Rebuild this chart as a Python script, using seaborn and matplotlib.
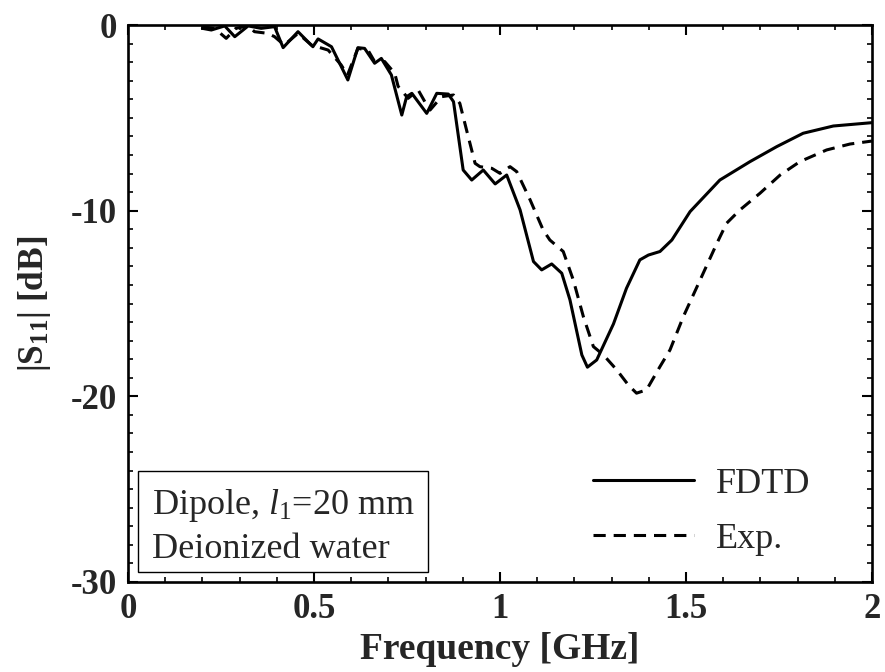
import matplotlib
matplotlib.use("Agg")
import matplotlib.pyplot as plt
import seaborn as sns
import numpy as np
from matplotlib.patches import Rectangle
from matplotlib.ticker import MultipleLocator

# ---- data ----
fdtd_f = [0.20, 0.224, 0.26, 0.287, 0.323, 0.358, 0.394, 0.417, 0.457, 0.497, 0.511, 0.547,
          0.591, 0.618, 0.636, 0.663, 0.681, 0.708, 0.736, 0.749, 0.763, 0.803, 0.830, 0.861,
          0.875, 0.901, 0.924, 0.955, 0.987, 1.018, 1.054, 1.09, 1.112, 1.139, 1.166, 1.188,
          1.22, 1.235, 1.26, 1.305, 1.34, 1.376, 1.399, 1.43, 1.462, 1.511, 1.591, 1.672,
          1.744, 1.815, 1.896, 2.0]
fdtd_db = [-0.18, -0.27, -0.05, -0.63, -0.05, -0.18, -0.09, -1.22, -0.36, -1.17, -0.75, -1.17,
           -2.96, -1.22, -1.26, -2.06, -1.8, -2.69, -4.85, -3.86, -3.68, -4.76, -3.68, -3.72,
           -4.13, -7.81, -8.35, -7.81, -8.56, -8.08, -9.96, -12.74, -13.19, -12.87, -13.37, -14.8,
           -17.77, -18.43, -18.04, -16.1, -14.18, -12.65, -12.39, -12.2, -11.58, -10.05, -8.35, -7.36,
           -6.55, -5.83, -5.44, -5.26]

exp_f = [0.20, 0.233, 0.264, 0.29, 0.323, 0.34, 0.376, 0.394, 0.42, 0.457, 0.493, 0.538,
         0.573, 0.59, 0.618, 0.645, 0.663, 0.69, 0.717, 0.726, 0.753, 0.78, 0.803, 0.812,
         0.843, 0.875, 0.892, 0.91, 0.933, 0.946, 0.978, 1.0, 1.027, 1.045, 1.081, 1.116,
         1.134, 1.17, 1.197, 1.224, 1.251, 1.278, 1.314, 1.345, 1.367, 1.394, 1.43, 1.457,
         1.493, 1.538, 1.583, 1.609, 1.645, 1.699, 1.753, 1.806, 1.878, 1.941, 2.0]
exp_db = [-0.1, -0.18, -0.72, -0.18, -0.05, -0.36, -0.45, -0.63, -1.08, -0.45, -1.08, -1.35,
          -2.15, -2.7, -1.26, -1.35, -1.97, -1.97, -2.6, -3.3, -3.95, -3.5, -4.31, -4.58,
          -3.86, -3.77, -4.22, -5.65, -7.45, -7.63, -7.72, -7.99, -7.63, -7.9, -9.42, -11.04,
          -11.58, -12.2, -13.73, -15.7, -17.32, -17.77, -18.58, -19.39, -19.83, -19.65, -18.4, -17.5,
          -15.7, -13.73, -11.76, -10.68, -9.96, -9.06, -8.08, -7.36, -6.73, -6.41, -6.25]

series_labels = ["FDTD", "Exp."]
x_ticks = [0, 0.5, 1, 1.5, 2]
x_ticklabels = ["0", "0.5", "1", "1.5", "2"]
y_ticks = [0, -10, -20, -30]
y_ticklabels = ["0", "-10", "-20", "-30"]

# ---- style ----
sns.set_style("ticks")
plt.rcParams['font.family'] = ['Liberation Serif', 'DejaVu Serif']
plt.rcParams['mathtext.fontset'] = 'custom'
plt.rcParams['mathtext.rm'] = 'Liberation Serif'
plt.rcParams['mathtext.it'] = 'Liberation Serif:italic'
plt.rcParams['mathtext.bf'] = 'Liberation Serif:bold'
plt.rcParams['lines.dashed_pattern'] = [4.0, 2.6]

fig = plt.figure(figsize=(8.85, 6.72), dpi=100)
ax = fig.add_axes([128/885, 90/672, 744/885, 557/672])

lw = 2.2
sns.lineplot(x=fdtd_f, y=fdtd_db, ax=ax, color='black', linewidth=lw,
             label=series_labels[0], sort=False, estimator=None)
sns.lineplot(x=exp_f, y=exp_db, ax=ax, color='black', linewidth=lw, linestyle='--',
             label=series_labels[1], sort=False, estimator=None)

ax.set_xlim(0, 2)
ax.set_ylim(-30, 0)
ax.set_xticks(x_ticks)
ax.set_xticklabels(x_ticklabels)
ax.set_yticks(y_ticks)
ax.set_yticklabels(y_ticklabels)
ax.xaxis.set_minor_locator(MultipleLocator(0.1))
ax.yaxis.set_minor_locator(MultipleLocator(1))

for lab in ax.get_xticklabels() + ax.get_yticklabels():
    lab.set_fontweight('bold')
    lab.set_fontsize(25)

ax.tick_params(which='both', direction='in', top=True, right=True, color='black')
ax.tick_params(which='major', length=7.5, width=1.5, pad=8)
ax.tick_params(which='minor', length=3.8, width=1.2)
ax.tick_params(axis='y', which='major', pad=8)
for sp in ax.spines.values():
    sp.set_linewidth(1.9)
    sp.set_color('black')
    sp.set_visible(True)

ax.set_xlabel("Frequency [GHz]", fontsize=27, fontweight='bold', labelpad=4)
ax.set_ylabel(r"|S$_{\mathbf{11}}$| [dB]", fontsize=25.5, fontweight='bold', labelpad=13)

leg = ax.legend(loc='center left', bbox_to_anchor=(0.625, 0.1266), frameon=False,
                fontsize=26, handlelength=2.8, handletextpad=0.6,
                labelspacing=0.6, borderpad=0, borderaxespad=0)

# annotation box
ax.add_patch(Rectangle((10/744, 10/557), 290/744, 101/557, transform=ax.transAxes,
                       fill=False, edgecolor='black', linewidth=1.0, zorder=5))
ax.text(24/744, (582-514)/557, r"Dipole, $\mathit{l}_{\mathrm{1}}$=20 mm", transform=ax.transAxes,
        fontsize=26, va='baseline', ha='left')
ax.text(24/744, (582-558)/557, "Deionized water", transform=ax.transAxes,
        fontsize=26, va='baseline', ha='left')

fig.savefig("out.png", dpi=100)
